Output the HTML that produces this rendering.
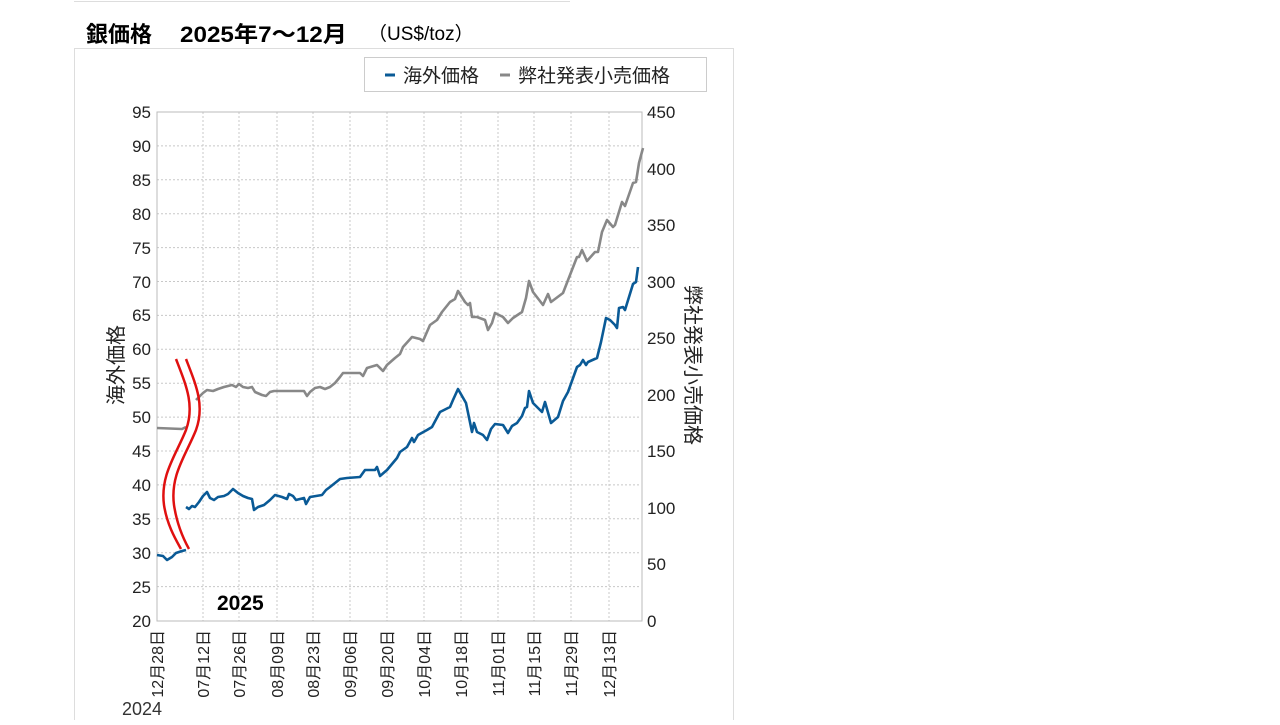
<!DOCTYPE html>
<html><head><meta charset="utf-8"><style>
body{margin:0;width:1280px;height:720px;background:#fff;overflow:hidden;font-family:"Liberation Sans","Noto Sans CJK JP",sans-serif;}
</style></head><body>
<svg width="1280" height="720" xmlns="http://www.w3.org/2000/svg" font-family="Liberation Sans, Noto Sans CJK JP, sans-serif">
<line x1="74" y1="1.5" x2="570" y2="1.5" stroke="#ddd"/>
<rect x="74.5" y="48.5" width="659" height="680" fill="none" stroke="#ddd"/>
<text x="86" y="42" font-size="22" fill="#000" font-weight="bold">銀価格</text>
<text x="180" y="42" font-size="22" fill="#000" font-weight="bold" textLength="167" lengthAdjust="spacingAndGlyphs">2025年7～12月</text>
<text x="368" y="40" font-size="19" fill="#000">（US$/toz）</text>
<rect x="364.5" y="57.5" width="342" height="34" fill="#fff" stroke="#ccc"/>
<line x1="385" y1="75" x2="395" y2="75" stroke="#0a5a96" stroke-width="3"/>
<text x="403" y="82" font-size="19" fill="#222">海外価格</text>
<line x1="500" y1="75" x2="510" y2="75" stroke="#888" stroke-width="3"/>
<text x="518" y="82" font-size="19" fill="#222">弊社発表小売価格</text>
<g stroke="#c8c8c8" stroke-dasharray="2,2" stroke-width="1">
<line x1="157" y1="145.9" x2="641" y2="145.9"/><line x1="157" y1="179.8" x2="641" y2="179.8"/><line x1="157" y1="213.7" x2="641" y2="213.7"/><line x1="157" y1="247.6" x2="641" y2="247.6"/><line x1="157" y1="281.5" x2="641" y2="281.5"/><line x1="157" y1="315.4" x2="641" y2="315.4"/><line x1="157" y1="349.3" x2="641" y2="349.3"/><line x1="157" y1="383.2" x2="641" y2="383.2"/><line x1="157" y1="417.1" x2="641" y2="417.1"/><line x1="157" y1="451" x2="641" y2="451"/><line x1="157" y1="484.9" x2="641" y2="484.9"/><line x1="157" y1="518.8" x2="641" y2="518.8"/><line x1="157" y1="552.7" x2="641" y2="552.7"/><line x1="157" y1="586.6" x2="641" y2="586.6"/>
<line x1="203" y1="112" x2="203" y2="621"/><line x1="239" y1="112" x2="239" y2="621"/><line x1="277" y1="112" x2="277" y2="621"/><line x1="313" y1="112" x2="313" y2="621"/><line x1="350" y1="112" x2="350" y2="621"/><line x1="387" y1="112" x2="387" y2="621"/><line x1="424" y1="112" x2="424" y2="621"/><line x1="461" y1="112" x2="461" y2="621"/><line x1="498" y1="112" x2="498" y2="621"/><line x1="534" y1="112" x2="534" y2="621"/><line x1="571" y1="112" x2="571" y2="621"/><line x1="609" y1="112" x2="609" y2="621"/>
</g>
<rect x="157" y="112" width="485" height="509" fill="none" stroke="#bbb"/>
<g font-size="17" fill="#222" text-anchor="end">
<text x="151" y="118">95</text><text x="151" y="152">90</text><text x="151" y="186">85</text><text x="151" y="220">80</text><text x="151" y="254">75</text><text x="151" y="288">70</text><text x="151" y="321">65</text><text x="151" y="355">60</text><text x="151" y="389">55</text><text x="151" y="423">50</text><text x="151" y="457">45</text><text x="151" y="491">40</text><text x="151" y="525">35</text><text x="151" y="559">30</text><text x="151" y="593">25</text><text x="151" y="627">20</text>
</g>
<g font-size="17" fill="#222">
<text x="647" y="118">450</text><text x="647" y="175">400</text><text x="647" y="231">350</text><text x="647" y="288">300</text><text x="647" y="344">250</text><text x="647" y="401">200</text><text x="647" y="457">150</text><text x="647" y="514">100</text><text x="647" y="570">50</text><text x="647" y="627">0</text>
</g>
<text transform="translate(123,365) rotate(-90)" font-size="20" fill="#222" text-anchor="middle">海外価格</text>
<text transform="translate(686,365) rotate(90)" font-size="20" fill="#222" text-anchor="middle">弊社発表小売価格</text>
<g font-size="16" fill="#222" text-anchor="end">
<text transform="translate(163,630) rotate(-90)">12月28日</text>
<text transform="translate(209,630) rotate(-90)">07月12日</text>
<text transform="translate(245,630) rotate(-90)">07月26日</text>
<text transform="translate(283,630) rotate(-90)">08月09日</text>
<text transform="translate(319,630) rotate(-90)">08月23日</text>
<text transform="translate(356,630) rotate(-90)">09月06日</text>
<text transform="translate(393,630) rotate(-90)">09月20日</text>
<text transform="translate(430,630) rotate(-90)">10月04日</text>
<text transform="translate(467,630) rotate(-90)">10月18日</text>
<text transform="translate(504,630) rotate(-90)">11月01日</text>
<text transform="translate(540,630) rotate(-90)">11月15日</text>
<text transform="translate(577,630) rotate(-90)">11月29日</text>
<text transform="translate(615,630) rotate(-90)">12月13日</text>
</g>
<text x="217" y="610" font-size="21" font-weight="bold" fill="#000">2025</text>
<text x="122" y="715" font-size="18" fill="#333">2024</text>
<g fill="none" stroke-width="2.6" stroke-linejoin="round">
<polyline stroke="#888" points="157,428 182,429 186,427"/>
<polyline stroke="#888" points="196,400 203,393 207,390 213,391 218,389 224,387 232,385 236,387 239,384 243,387 248,388 252,387 255,392 262,395 266,396 270,392 274,391 280,391 300,391 304,391 307,396 310,392 315,388 320,387 325,389 330,387 335,383 340,377 343,373 360,373 363,376 367,368 377,365 383,371 387,365 395,358 400,354 403,347 412,337 420,339 423,341 430,325 437,320 442,312 450,302 455,299 458,291 465,302 468,305 470,303 472,317 477,317 485,320 488,330 492,323 495,313 503,317 508,323 513,318 522,312 526,298 529,281 533,292 543,305 548,294 551,302 563,293 570,275 577,257 579,257 582,250 587,261 595,252 598,252 602,232 607,220 613,227 615,225 622,202 625,206 633,183 636,182 639,163 643,148"/>
<polyline stroke="#0a5a96" points="157,555 163,556 167,560 172,557 176,553 182,551 186,550"/>
<polyline stroke="#0a5a96" points="186,507 189,509 192,506 195,507 199,502 203,496 207,492 210,498 214,500 218,497 224,496 228,494 233,489 238,493 243,496 248,498 252,499 254,510 258,507 264,505 270,500 275,495 282,497 287,499 289,494 293,496 296,500 300,499 304,498 306,504 310,497 316,496 322,495 326,490 330,487 335,483 340,479 347,478 360,477 365,470 375,470 377,467 380,476 387,470 397,458 400,452 407,447 412,438 414,442 418,435 427,430 432,427 440,412 450,407 453,400 458,389 466,403 472,432 474,423 477,432 483,435 487,440 491,429 495,424 503,425 508,433 512,426 517,423 522,416 525,408 527,407 529,391 533,403 542,412 545,402 551,423 558,417 563,401 568,392 577,367 580,365 583,360 586,365 588,362 597,358 601,342 606,318 610,320 615,325 617,328 619,308 623,307 625,310 633,284 636,282 638,267"/>
</g>
<g fill="none" stroke="#e01010" stroke-width="2.5">
<path d="M176,359 C186,385 195,405 186,430 C176,455 160,475 164,505 C167,525 176,540 181,549"/>
<path d="M186,359 C196,385 205,405 196,430 C186,455 170,475 174,505 C177,525 184,540 189,549"/>
</g>
</svg>
</body></html>
